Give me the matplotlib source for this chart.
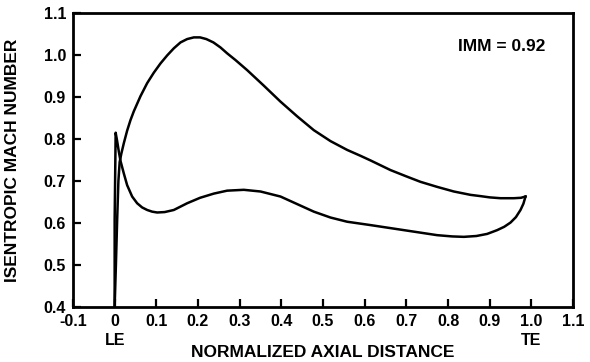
import matplotlib
matplotlib.use("Agg")
import matplotlib.pyplot as plt

# Suction side (upper curve)
ss_x = [0.000, 0.003, 0.006, 0.009, 0.012, 0.016, 0.022, 0.030, 0.038, 0.046, 0.062,
        0.078, 0.094, 0.110, 0.126, 0.142, 0.158, 0.174, 0.190, 0.205, 0.220,
        0.237, 0.254, 0.270, 0.290, 0.318, 0.358, 0.398, 0.438, 0.478, 0.518,
        0.558, 0.590, 0.614, 0.662, 0.700, 0.734, 0.774, 0.814, 0.854, 0.878,
        0.900, 0.926, 0.958, 0.975, 0.986]
ss_y = [0.400, 0.500, 0.607, 0.700, 0.745, 0.765, 0.790, 0.820, 0.845, 0.866, 0.902,
        0.933, 0.958, 0.980, 0.999, 1.016, 1.030, 1.038, 1.042, 1.042, 1.038,
        1.030, 1.018, 1.004, 0.988, 0.964, 0.927, 0.889, 0.854, 0.821, 0.795,
        0.774, 0.760, 0.749, 0.726, 0.711, 0.698, 0.686, 0.675, 0.667, 0.664,
        0.661, 0.659, 0.659, 0.660, 0.663]

# Pressure side (lower curve)
ps_x = [0.000, 0.000, 0.0024, 0.006, 0.010, 0.014, 0.022, 0.030, 0.042, 0.054, 0.066,
        0.078, 0.090, 0.102, 0.120, 0.142, 0.158, 0.174, 0.205, 0.238, 0.270,
        0.310, 0.350, 0.398, 0.438, 0.478, 0.518, 0.558, 0.614, 0.654, 0.694,
        0.734, 0.774, 0.810, 0.838, 0.868, 0.894, 0.918, 0.935, 0.950, 0.963,
        0.974, 0.981, 0.986]
ps_y = [0.400, 0.607, 0.815, 0.795, 0.770, 0.748, 0.718, 0.690, 0.663, 0.647, 0.637,
        0.631, 0.627, 0.625, 0.626, 0.631, 0.639, 0.647, 0.660, 0.670, 0.677,
        0.679, 0.675, 0.663, 0.645, 0.627, 0.613, 0.603, 0.595, 0.589, 0.583,
        0.577, 0.571, 0.568, 0.567, 0.569, 0.574, 0.583, 0.591, 0.601, 0.614,
        0.631, 0.646, 0.663]

x_ticks = [-0.1, 0, 0.1, 0.2, 0.3, 0.4, 0.5, 0.6, 0.7, 0.8, 0.9, 1.0, 1.1]
x_tick_labels = ["-0.1", "0", "0.1", "0.2", "0.3", "0.4", "0.5", "0.6", "0.7",
                 "0.8", "0.9", "1.0", "1.1"]
y_ticks = [0.4, 0.5, 0.6, 0.7, 0.8, 0.9, 1.0, 1.1]
y_tick_labels = ["0.4", "0.5", "0.6", "0.7", "0.8", "0.9", "1.0", "1.1"]

plt.rcParams['font.family'] = ['Liberation Sans', 'DejaVu Sans']
plt.rcParams['font.weight'] = 'bold'

fig = plt.figure(figsize=(5.9, 3.62), dpi=100)
ax = fig.add_axes([0.1237, 0.152, 0.8475, 0.812])

ax.plot(ss_x, ss_y, color='black', lw=1.8, solid_joinstyle='round')
ax.plot(ps_x, ps_y, color='black', lw=1.8, solid_joinstyle='round')

ax.set_xlim(-0.1, 1.1)
ax.set_ylim(0.4, 1.1)
ax.set_xticks(x_ticks)
ax.set_xticklabels(x_tick_labels, fontsize=11.5, fontweight='bold')
ax.set_yticks(y_ticks)
ax.set_yticklabels(y_tick_labels, fontsize=11.5, fontweight='bold')
ax.tick_params(direction='in', length=6, width=1.6, pad=5,
               top=False, right=False)
for s in ax.spines.values():
    s.set_linewidth(2)

ax.set_xlabel("NORMALIZED AXIAL DISTANCE", fontsize=12.5, fontweight='bold')
ax.xaxis.set_label_coords(0.5, -0.128)
ax.set_ylabel("ISENTROPIC MACH NUMBER", fontsize=12.5, fontweight='bold')
ax.yaxis.set_label_coords(-0.106, 0.5)

ax.text(0.0, -0.087, "LE", transform=ax.get_xaxis_transform(), ha='center', va='top',
        fontsize=11.5, fontweight='bold')
ax.text(1.0, -0.087, "TE", transform=ax.get_xaxis_transform(), ha='center', va='top',
        fontsize=11.5, fontweight='bold')
ax.text(0.93, 1.02, "IMM = 0.92", ha='center', va='center', fontsize=12.5,
        fontweight='bold')

fig.savefig("out.png", dpi=100)
